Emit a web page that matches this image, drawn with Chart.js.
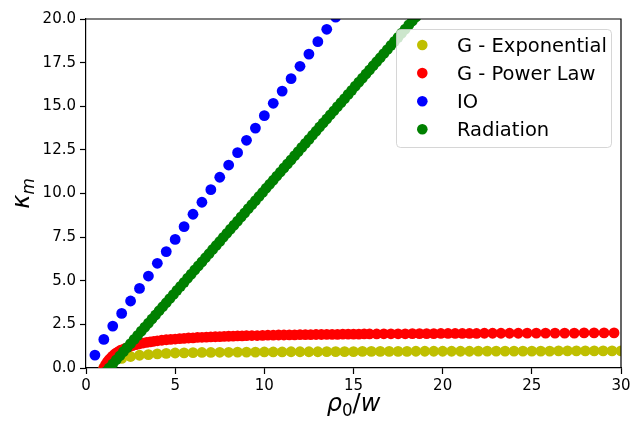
<!DOCTYPE html>
<html>
<head>
<meta charset="utf-8">
<script src="https://cdn.jsdelivr.net/npm/chart.js@4.4.1/dist/chart.umd.min.js"></script>
<style>
    html, body { margin: 0; padding: 0; background: #fff; }
</style>
</head>
<body>
<canvas id="kappa-chart" width="630" height="422"></canvas>
<script>
const seriesLabels = ["G - Exponential", "G - Power Law", "IO", "Radiation"];
const seriesColors = ["#bfbf00", "#ff0000", "#0000ff", "#008000"];

const xTicks = [0, 5, 10, 15, 20, 25, 30];
const yTicks = [0, 2.5, 5, 7.5, 10, 12.5, 15, 17.5, 20];

// G - Exponential
const xExp = [1.0, 1.5, 2.0, 2.5, 3.0, 3.5, 4.0, 4.5, 5.0, 5.5, 6.0, 6.5, 7.0, 7.5, 8.0, 8.5, 9.0, 9.5, 10.0, 10.5,
    11.0, 11.5, 12.0, 12.5, 13.0, 13.5, 14.0, 14.5, 15.0, 15.5, 16.0, 16.5, 17.0, 17.5, 18.0, 18.5, 19.0, 19.5, 20.0, 20.5,
    21.0, 21.5, 22.0, 22.5, 23.0, 23.5, 24.0, 24.5, 25.0, 25.5, 26.0, 26.5, 27.0, 27.5, 28.0, 28.5, 29.0, 29.5, 30.0];
const yExp = [0.02, 0.38, 0.55, 0.66, 0.73, 0.77, 0.81, 0.84, 0.86, 0.87, 0.88, 0.89, 0.89, 0.90, 0.90, 0.91, 0.91, 0.91, 0.92, 0.92,
    0.92, 0.93, 0.93, 0.93, 0.93, 0.94, 0.94, 0.94, 0.94, 0.95, 0.95, 0.95, 0.95, 0.95, 0.95, 0.96, 0.96, 0.96, 0.96, 0.96,
    0.96, 0.96, 0.97, 0.97, 0.97, 0.97, 0.97, 0.97, 0.97, 0.97, 0.97, 0.98, 0.98, 0.98, 0.98, 0.98, 0.98, 0.98, 0.98];

// G - Power Law
const xPow = [1.0, 1.1, 1.2, 1.3, 1.4, 1.5, 1.6, 1.7, 1.8, 1.9, 2.0,
    2.2, 2.4, 2.6, 2.8, 3.0, 3.2, 3.4, 3.6, 3.8, 4.0,
    4.25, 4.5, 4.75, 5.0, 5.25, 5.5, 5.75, 6.0, 6.25, 6.5, 6.75, 7.0, 7.25, 7.5, 7.75, 8.0, 8.25, 8.5, 8.75, 9.0,
    9.3, 9.6, 9.9, 10.2, 10.5, 10.8, 11.1, 11.4, 11.7, 12.0, 12.3, 12.6, 12.9, 13.2, 13.5, 13.8, 14.1, 14.4, 14.7, 15.0,
    15.3, 15.6, 15.9, 16.3, 16.7, 17.1, 17.5, 17.9, 18.3, 18.7, 19.1, 19.5, 19.9, 20.3, 20.7, 21.1, 21.5, 21.9,
    22.34, 22.8, 23.27, 23.75, 24.24, 24.74, 25.25, 25.77, 26.3, 26.84, 27.38, 27.93, 28.49, 29.05, 29.61];
const yPow = [0.00, 0.19, 0.35, 0.48, 0.59, 0.69, 0.78, 0.86, 0.92, 0.99, 1.04,
    1.13, 1.21, 1.28, 1.34, 1.39, 1.43, 1.47, 1.50, 1.53, 1.56,
    1.59, 1.62, 1.64, 1.66, 1.68, 1.70, 1.72, 1.73, 1.75, 1.76, 1.77, 1.78, 1.79, 1.80, 1.81, 1.82, 1.83, 1.84, 1.84, 1.85,
    1.86, 1.86, 1.87, 1.88, 1.88, 1.89, 1.89, 1.90, 1.90, 1.91, 1.91, 1.91, 1.92, 1.92, 1.93, 1.93, 1.93, 1.94, 1.94, 1.94,
    1.94, 1.95, 1.95, 1.95, 1.96, 1.96, 1.96, 1.96, 1.97, 1.97, 1.97, 1.97, 1.98, 1.98, 1.98, 1.98, 1.98, 1.98,
    1.99, 1.99, 1.99, 1.99, 1.99, 2.00, 2.00, 2.00, 2.00, 2.00, 2.00, 2.01, 2.01, 2.01, 2.01];

// IO
const xIO = [0.5, 1.0, 1.5, 2.0, 2.5, 3.0, 3.5, 4.0, 4.5, 5.0, 5.5, 6.0, 6.5, 7.0,
    7.5, 8.0, 8.5, 9.0, 9.5, 10.0, 10.5, 11.0, 11.5, 12.0, 12.5, 13.0, 13.5, 14.0];
const yIO = [0.74, 1.64, 2.40, 3.13, 3.84, 4.56, 5.27, 6.00, 6.67, 7.37, 8.10, 8.81, 9.50, 10.22,
    10.93, 11.63, 12.34, 13.05, 13.75, 14.46, 15.17, 15.87, 16.58, 17.29, 17.99, 18.70, 19.41, 20.11];

// Radiation
const xRad = [1.1, 1.3, 1.5, 1.7, 1.9, 2.1, 2.3, 2.5, 2.7, 2.9,
    3.1, 3.3, 3.5, 3.7, 3.9, 4.1, 4.3, 4.5, 4.7, 4.9,
    5.1, 5.3, 5.5, 5.7, 5.9, 6.1, 6.3, 6.5, 6.7, 6.9,
    7.1, 7.3, 7.5, 7.7, 7.9, 8.1, 8.3, 8.5, 8.7, 8.9,
    9.1, 9.3, 9.5, 9.7, 9.9, 10.1, 10.3, 10.5, 10.7, 10.9,
    11.1, 11.3, 11.5, 11.7, 11.9, 12.1, 12.3, 12.5, 12.7, 12.9,
    13.1, 13.3, 13.5, 13.7, 13.9, 14.1, 14.3, 14.5, 14.7, 14.9,
    15.1, 15.3, 15.5, 15.7, 15.9, 16.1, 16.3, 16.5, 16.7, 16.9,
    17.1, 17.3, 17.5, 17.7, 17.9, 18.1, 18.3, 18.5];
const yRad = [-0.23, 0.00, 0.23, 0.47, 0.70, 0.94, 1.17, 1.40, 1.64, 1.87,
    2.11, 2.34, 2.57, 2.81, 3.04, 3.28, 3.51, 3.74, 3.98, 4.21,
    4.45, 4.68, 4.91, 5.15, 5.38, 5.62, 5.85, 6.08, 6.32, 6.55,
    6.79, 7.02, 7.25, 7.49, 7.72, 7.96, 8.19, 8.42, 8.66, 8.89,
    9.13, 9.36, 9.59, 9.83, 10.06, 10.30, 10.53, 10.76, 11.00, 11.23,
    11.47, 11.70, 11.93, 12.17, 12.40, 12.64, 12.87, 13.10, 13.34, 13.57,
    13.81, 14.04, 14.27, 14.51, 14.74, 14.98, 15.21, 15.44, 15.68, 15.91,
    16.15, 16.38, 16.61, 16.85, 17.08, 17.32, 17.55, 17.78, 18.02, 18.25,
    18.49, 18.72, 18.95, 19.19, 19.42, 19.66, 19.89, 20.12];

const FONT = "'DejaVu Sans', sans-serif";
Chart.defaults.font.family = FONT;
Chart.defaults.color = "#000";

function toPoints(xs, ys) {
    return xs.map((x, i) => ({ x: x, y: ys[i] }));
}

// draws mixed italic / subscript text centred on (0, 0), baseline at 0
function drawMath(ctx, parts, size) {
    const pieces = parts.map(p => {
        const fs = p.sub ? size * 0.7 : size;
        const font = (p.it ? "italic " : "") + fs + "px " + FONT;
        ctx.font = font;
        return { t: p.t, font: font, w: ctx.measureText(p.t).width, dy: p.sub ? size * 0.2 : 0 };
    });
    const total = pieces.reduce((s, p) => s + p.w, 0);
    let x = -total / 2;
    ctx.textBaseline = "alphabetic";
    ctx.textAlign = "left";
    pieces.forEach(p => {
        ctx.font = p.font;
        ctx.fillText(p.t, x, p.dy);
        x += p.w;
    });
}

const frameAndLabels = {
    id: "frameAndLabels",
    afterDraw(chart) {
        const ctx = chart.ctx;
        const area = chart.chartArea;
        ctx.save();
        ctx.strokeStyle = "#000";
        ctx.lineWidth = 1.2;
        ctx.beginPath();
        ctx.moveTo(area.left, area.top);
        ctx.lineTo(area.right, area.top);
        ctx.lineTo(area.right, area.bottom);
        ctx.stroke();

        ctx.fillStyle = "#000";
        ctx.save();
        ctx.translate((area.left + area.right) / 2, 411);
        drawMath(ctx, [{ t: "ρ", it: true }, { t: "0", sub: true }, { t: "/" }, { t: "w", it: true }], 24);
        ctx.restore();

        ctx.save();
        ctx.translate(29, (area.top + area.bottom) / 2);
        ctx.rotate(-Math.PI / 2);
        drawMath(ctx, [{ t: "κ", it: true }, { t: "m", it: true, sub: true }], 24);
        ctx.restore();
        ctx.restore();
    }
};

const legendBox = {
    id: "legendBox",
    afterDraw(chart) {
        const ctx = chart.ctx;
        const box = { x: 396.5, y: 29.5, w: 215, h: 118 };
        ctx.save();
        ctx.beginPath();
        ctx.roundRect(box.x, box.y, box.w, box.h, 4);
        ctx.fillStyle = "rgba(255,255,255,0.8)";
        ctx.fill();
        ctx.strokeStyle = "rgba(204,204,204,0.8)";
        ctx.lineWidth = 1;
        ctx.stroke();

        ctx.font = "19.5px " + FONT;
        ctx.textAlign = "left";
        ctx.textBaseline = "alphabetic";
        chart.data.datasets.forEach((ds, i) => {
            const cy = 45 + i * 28.1;
            ctx.beginPath();
            ctx.arc(422.3, cy, 5.3, 0, Math.PI * 2);
            ctx.fillStyle = ds.backgroundColor;
            ctx.fill();
            ctx.fillStyle = "#000";
            ctx.fillText(ds.label, 457, cy + 7.1);
        });
        ctx.restore();
    }
};

const datasets = [
    { xs: xExp, ys: yExp, order: 4 },
    { xs: xPow, ys: yPow, order: 3 },
    { xs: xIO, ys: yIO, order: 2 },
    { xs: xRad, ys: yRad, order: 1 }
].map((s, i) => ({
    label: seriesLabels[i],
    data: toPoints(s.xs, s.ys),
    backgroundColor: seriesColors[i],
    borderColor: seriesColors[i],
    order: s.order
}));

new Chart(document.getElementById("kappa-chart"), {
    type: "scatter",
    data: { datasets: datasets },
    options: {
        responsive: false,
        animation: false,
        devicePixelRatio: 1,
        layout: { padding: 0 },
        elements: { point: { radius: 5.4, hoverRadius: 5.4, borderWidth: 0 } },
        plugins: {
            legend: { display: false },
            tooltip: { enabled: false }
        },
        scales: {
            x: {
                type: "linear",
                min: 0,
                max: 30,
                z: 1,
                afterBuildTicks: scale => { scale.ticks = xTicks.map(v => ({ value: v })); },
                afterFit: scale => {
                    scale.height = 54;
                    scale.paddingLeft = 0;
                    scale.paddingRight = 9;
                },
                ticks: { font: { size: 15 }, color: "#000", padding: 3, maxRotation: 0, callback: v => String(v) },
                grid: { drawOnChartArea: false, tickLength: 6, tickWidth: 1.2, tickColor: "#000" },
                border: { color: "#000", width: 1.2 }
            },
            y: {
                type: "linear",
                min: 0,
                max: 20,
                z: 1,
                afterBuildTicks: scale => { scale.ticks = yTicks.map(v => ({ value: v })); },
                afterFit: scale => {
                    scale.width = 86;
                    scale.paddingTop = 19;
                    scale.paddingBottom = 0;
                },
                ticks: { font: { size: 15 }, color: "#000", padding: 4, callback: v => v.toFixed(1) },
                grid: { drawOnChartArea: false, tickLength: 6, tickWidth: 1.2, tickColor: "#000" },
                border: { color: "#000", width: 1.2 }
            }
        }
    },
    plugins: [frameAndLabels, legendBox]
});
</script>
</body>
</html>
